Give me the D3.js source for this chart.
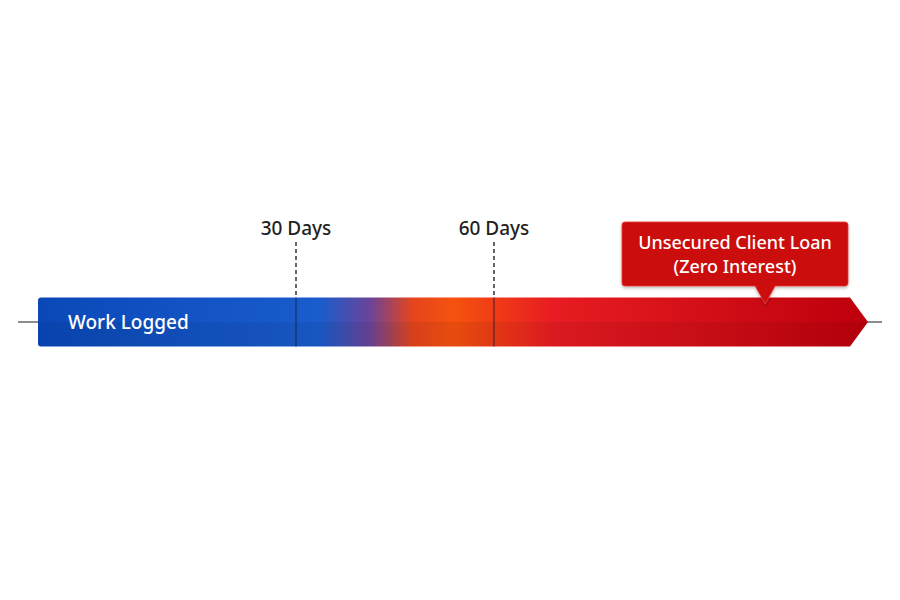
<!DOCTYPE html>
<meta charset="utf-8">
<head>
<script src="https://d3js.org/d3.v7.min.js"></script>
<style>
  body { margin: 0; background: #fff; }
  text { font-family: "Noto Sans", Lato, sans-serif; }
</style>
</head>
<body>
<div id="chart"></div>
<script>
// days along the timeline and where they sit
var dayStops = [0, 30, 60, 100];
var milestones = [30, 60];
var milestoneLabels = ["30 Days", "60 Days"];
var barLabel = "Work Logged";
var calloutDay = 89;
var calloutLines = ["Unsecured Client Loan", "(Zero Interest)"];
// gradient colour stops (offset, colour)
var gradOffsets = [0, 0.34, 0.40, 0.45, 0.50, 0.62, 1];
var gradColors = ["#0a48b8", "#1a5ccc", "#6a4499", "#e4441e", "#f5520e", "#e81c22", "#bd000c"];

var width = 900, height = 600;
var svg = d3.select("#chart").append("svg")
    .attr("width", width).attr("height", height);

var x = d3.scaleLinear().domain(dayStops).range([38, 296, 494, 868]);
var yMid = 322, barH = 49, barTop = yMid - barH / 2, barBot = yMid + barH / 2;
var endX = x(dayStops[3]), shoulder = endX - 18;

var defs = svg.append("defs");
var grad = defs.append("linearGradient").attr("id", "g")
    .attr("gradientUnits", "userSpaceOnUse")
    .attr("x1", x(0)).attr("x2", endX).attr("y1", 0).attr("y2", 0);
gradOffsets.forEach(function(o, i) {
  grad.append("stop").attr("offset", o).attr("stop-color", gradColors[i]);
});
defs.append("filter").attr("id", "sh").append("feDropShadow")
  .attr("dx", 0).attr("dy", 1.5).attr("stdDeviation", 1.5).attr("flood-opacity", 0.3);

// axis line
svg.append("line").attr("x1", 18).attr("x2", 882).attr("y1", yMid).attr("y2", yMid)
  .attr("stroke", "#666").attr("stroke-width", 1.5);

var r = 3, x0 = x(0);
var barPath = "M" + (x0 + r) + "," + barTop + "H" + shoulder + "L" + endX + "," + yMid +
  "L" + shoulder + "," + barBot + "H" + (x0 + r) + "Q" + x0 + "," + barBot + " " + x0 + "," + (barBot - r) +
  "V" + (barTop + r) + "Q" + x0 + "," + barTop + " " + (x0 + r) + "," + barTop + "Z";
svg.append("path").attr("d", barPath).attr("fill", "url(#g)");
// lower half slightly darker
defs.append("clipPath").attr("id", "clip").append("path").attr("d", barPath);
svg.append("rect").attr("clip-path", "url(#clip)")
  .attr("x", x0).attr("y", yMid).attr("width", endX - x0).attr("height", barH / 2)
  .attr("fill", "#000").attr("opacity", 0.06);

svg.append("text").attr("x", 68).attr("y", yMid + 7)
  .attr("fill", "#fff").attr("font-size", 19).attr("font-weight", 500).text(barLabel);

// milestones
milestones.forEach(function(d, i) {
  var mx = x(d);
  svg.append("line").attr("x1", mx).attr("x2", mx).attr("y1", 242).attr("y2", barTop)
    .attr("stroke", "#333").attr("stroke-width", 1.5).attr("stroke-dasharray", "4,3");
  svg.append("line").attr("x1", mx).attr("x2", mx).attr("y1", barTop).attr("y2", barBot)
    .attr("stroke", "#1a1a3a").attr("stroke-opacity", 0.7).attr("stroke-width", 1.2);
  svg.append("text").attr("x", mx).attr("y", 235).attr("text-anchor", "middle")
    .attr("fill", "#222").attr("font-size", 19).attr("font-weight", 500).text(milestoneLabels[i]);
});

// callout
var cx = x(calloutDay), bx1 = 622, bx2 = 848, by1 = 222, by2 = 286, tipY = 304;
var cr = 3;
var callPath = "M" + (bx1 + cr) + "," + by1 + "H" + (bx2 - cr) + "Q" + bx2 + "," + by1 + " " + bx2 + "," + (by1 + cr) +
  "V" + (by2 - cr) + "Q" + bx2 + "," + by2 + " " + (bx2 - cr) + "," + by2 +
  "H" + (cx + 10) + "L" + cx + "," + tipY + "L" + (cx - 10) + "," + by2 +
  "H" + (bx1 + cr) + "Q" + bx1 + "," + by2 + " " + bx1 + "," + (by2 - cr) +
  "V" + (by1 + cr) + "Q" + bx1 + "," + by1 + " " + (bx1 + cr) + "," + by1 + "Z";
svg.append("path").attr("d", callPath).attr("fill", "#cc0a0a")
  .attr("stroke", "#e84040").attr("stroke-width", 0.8).attr("filter", "url(#sh)");
calloutLines.forEach(function(t, i) {
  svg.append("text").attr("x", (bx1 + bx2) / 2).attr("y", 249 + i * 24)
    .attr("text-anchor", "middle").attr("fill", "#fff")
    .attr("font-size", 18).attr("font-weight", 500).text(t);
});
</script>
</body>
